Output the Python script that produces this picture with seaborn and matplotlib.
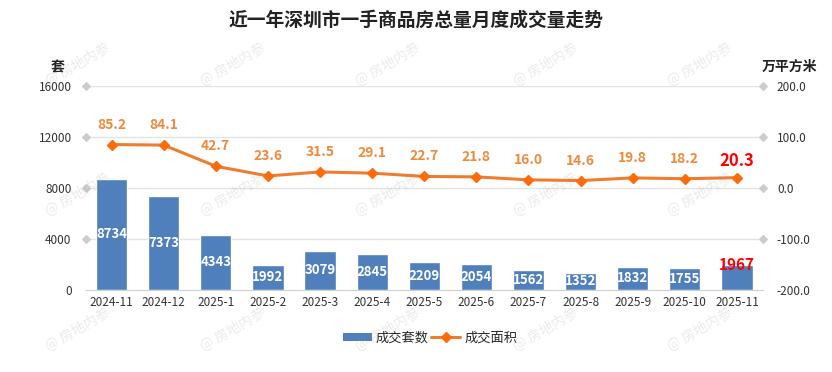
import matplotlib
matplotlib.use("Agg")
import matplotlib.pyplot as plt
from matplotlib.patches import Patch
from matplotlib.lines import Line2D
import seaborn as sns

# 数据
months = ["2024-11", "2024-12", "2025-1", "2025-2", "2025-3", "2025-4", "2025-5",
          "2025-6", "2025-7", "2025-8", "2025-9", "2025-10", "2025-11"]
units = [8734, 7373, 4343, 1992, 3079, 2845, 2209, 2054, 1562, 1352, 1832, 1755, 1967]
area = [85.2, 84.1, 42.7, 23.6, 31.5, 29.1, 22.7, 21.8, 16.0, 14.6, 19.8, 18.2, 20.3]
left_ticks = [0, 4000, 8000, 12000, 16000]
right_ticks = [-200, -100, 0, 100, 200]

BAR = "#4f80bc"
LINE = "#ef7d30"
MARK = "#ff6a0a"
LBL = "#f08a3c"
GRID = "#e3e3e3"

sns.set_style("white")
plt.rcParams["font.family"] = ["Noto Sans CJK SC", "DejaVu Sans"]

fig = plt.figure(figsize=(8.32, 3.72), dpi=100)
ax = fig.add_axes([85.5 / 832, 1 - 290 / 372, (763 - 85.5) / 832, 204 / 372])

sns.barplot(x=months, y=units, ax=ax, color=BAR, width=0.6, saturation=1, zorder=2)
ax.set_xlim(-0.5, len(months) - 0.5)
ax.set_ylim(0, 16000)
ax.set_yticks(left_ticks)
ax.set_yticklabels([str(t) for t in left_ticks])
for t in left_ticks[1:]:
    ax.axhline(t, color=GRID, lw=1, zorder=0)
for s in ["top", "left", "right"]:
    ax.spines[s].set_visible(False)
ax.spines["bottom"].set_color("#cfcfcf")
ax.tick_params(axis="x", length=0, pad=4, labelsize=8.5, labelcolor="#333333")
ax.tick_params(axis="y", length=5, pad=5, labelsize=8.5, labelcolor="#333333", color="#c8c8c8")
ax.set_xlabel("")
ax.set_ylabel("")

# 柱内标签
for i, v in enumerate(units):
    if i == len(units) - 1:
        ax.text(i, v, str(v), ha="center", va="center", color="red",
                fontsize=11, fontweight="bold", zorder=5)
    else:
        ax.text(i, v / 2, str(v), ha="center", va="center", color="white",
                fontsize=9.5, fontweight="bold", zorder=5)

ax2 = ax.twinx()
ax2.plot(range(len(area)), area, color=LINE, lw=2.2, marker="D", markersize=5,
         markerfacecolor=MARK, markeredgecolor=MARK, zorder=4)
ax2.set_ylim(-200, 200)
ax2.set_yticks(right_ticks)
ax2.set_yticklabels([f"{t:.1f}" for t in right_ticks])
for s in ["top", "left", "right", "bottom"]:
    ax2.spines[s].set_visible(False)
ax2.tick_params(axis="y", length=5, pad=5, labelsize=8.5, labelcolor="#333333", color="#c8c8c8")
ax2.set_xlim(-0.5, len(months) - 0.5)

# 刻度改为菱形
for a in (ax, ax2):
    for k, tk in enumerate(a.yaxis.get_major_ticks()):
        for ln in (tk.tick1line, tk.tick2line):
            ln.set_marker("D")
            ln.set_markersize(4)
            ln.set_markerfacecolor("#cccccc")
            ln.set_markeredgecolor("#cccccc")
        if k == 0:
            tk.tick1line.set_visible(False)
            tk.tick2line.set_visible(False)

# 折线标签
for i, v in enumerate(area):
    if i == len(area) - 1:
        ax2.annotate(f"{v:.1f}", (i, v), xytext=(0, 17), textcoords="offset pixels",
                     ha="center", va="center", color="red", fontsize=12, fontweight="bold")
    else:
        ax2.annotate(f"{v:.1f}", (i, v), xytext=(0, 20), textcoords="offset pixels",
                     ha="center", va="center", color=LBL, fontsize=10, fontweight="bold")

fig.text(0.5, 1 - 20 / 372, "近一年深圳市一手商品房总量月度成交量走势", ha="center", va="center",
         fontsize=13.5, fontweight="bold", color="#222222")
fig.text(58 / 832, 1 - 67 / 372, "套", ha="center", va="center", fontsize=10,
         fontweight="bold", color="#222222")
fig.text(789 / 832, 1 - 67 / 372, "万平方米", ha="center", va="center", fontsize=10,
         fontweight="bold", color="#222222")

handles = [Patch(facecolor=BAR, edgecolor="none"),
           Line2D([0], [0], color=LINE, lw=2.2, marker="D", markersize=5,
                  markerfacecolor=MARK, markeredgecolor=MARK)]
fig.legend(handles, ["成交套数", "成交面积"], loc="center", bbox_to_anchor=(0.517, 1 - 338 / 372),
           ncol=2, frameon=False, fontsize=9.5, handlelength=2.2, handleheight=0.6,
           columnspacing=0.2, handletextpad=0.3)

# 水印
for yy in (65, 195, 330):
    for xx in (78, 233, 388, 546, 700):
        fig.text(xx / 832, 1 - yy / 372, "@ 房地内参", ha="center", va="center",
                 rotation=30, fontsize=10, color="#9a9a9a", alpha=0.2, zorder=10)

fig.savefig("out.png", dpi=100)
